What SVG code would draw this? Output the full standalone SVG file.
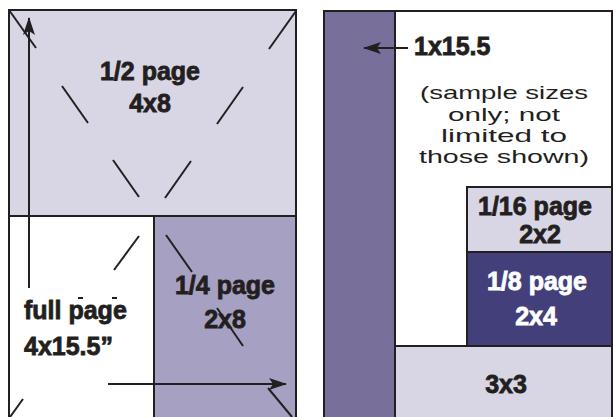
<svg xmlns="http://www.w3.org/2000/svg" width="613" height="417" viewBox="0 0 613 417">
<defs>
<style>
.box{stroke:#231f20;stroke-width:2}
.ln{stroke:#231f20;stroke-width:2;fill:none}
.b{font-family:"Liberation Sans",Arial,sans-serif;font-weight:bold;font-size:25px;fill:#231f20;stroke:#231f20;stroke-width:0.8;text-anchor:middle}
.w{fill:#ffffff;stroke:#ffffff}
.n{font-family:"Liberation Sans",Arial,sans-serif;font-size:19px;fill:#231f20;text-anchor:middle}
</style>
<marker id="ah" viewBox="0 0 18 12" refX="17" refY="6" markerWidth="18" markerHeight="12" markerUnits="userSpaceOnUse" orient="auto">
<path d="M0,0 L18,6 L0,12 L4,6 Z" fill="#231f20"/>
</marker>
</defs>
<rect width="613" height="417" fill="#ffffff"/>
<g id="full-page">
<rect class="box" x="9" y="10" width="287" height="420" fill="#ffffff"/>
<text class="b" x="24" y="319" style="text-anchor:start">full page</text>
<text class="b" x="24" y="355" style="text-anchor:start">4x15.5”</text>
</g>
<g id="half-page">
<rect class="box" x="9" y="10" width="287" height="206" fill="#d8d6e4"/>
<text class="b" x="150" y="80">1/2 page</text>
<text class="b" x="150" y="112">4x8</text>
</g>
<g id="quarter-page">
<rect class="box" x="154" y="216" width="142" height="214" fill="#a6a1c3"/>
<text class="b" x="225" y="294">1/4 page</text>
<text class="b" x="225" y="328">2x8</text>
</g>
<g id="bar">
<rect class="box" x="324" y="11" width="71" height="420" fill="#78709a"/>
</g>
<g id="right-panel">
<rect class="box" x="395" y="11" width="217" height="420" fill="#ffffff"/>
<text class="b" x="414" y="55" style="text-anchor:start">1x15.5</text>
<text class="n" x="504" y="99" textLength="168" lengthAdjust="spacingAndGlyphs">(sample sizes</text>
<text class="n" x="504" y="121" textLength="112" lengthAdjust="spacingAndGlyphs">only; not</text>
<text class="n" x="504" y="142" textLength="126" lengthAdjust="spacingAndGlyphs">limited to</text>
<text class="n" x="504" y="163" textLength="170" lengthAdjust="spacingAndGlyphs">those shown)</text>
</g>
<g id="sixteenth-page">
<rect class="box" x="467" y="187" width="145" height="65" fill="#d8d6e4"/>
<text class="b" x="535" y="215">1/16 page</text>
<text class="b" x="540" y="243">2x2</text>
</g>
<g id="eighth-page">
<rect class="box" x="467" y="252" width="145" height="94" fill="#433f7a"/>
<text class="b w" x="537" y="290">1/8 page</text>
<text class="b w" x="536" y="325">2x4</text>
</g>
<g id="three-by-three">
<rect class="box" x="395" y="346" width="217" height="85" fill="#d8d6e4"/>
<text class="b" x="506" y="393">3x3</text>
</g>
<g id="connectors">
<line class="ln" x1="29" y1="288" x2="29" y2="18" marker-end="url(#ah)"/>
<line class="ln" x1="108" y1="384" x2="286" y2="384" marker-end="url(#ah)"/>
<line class="ln" x1="408" y1="48" x2="364" y2="48" marker-end="url(#ah)"/>
<line class="ln" x1="9" y1="10" x2="36" y2="48"/>
<line class="ln" x1="296" y1="11" x2="269" y2="49"/>
<line class="ln" x1="62" y1="86" x2="88" y2="123"/>
<line class="ln" x1="243" y1="87" x2="217" y2="124"/>
<line class="ln" x1="113" y1="160" x2="139" y2="197"/>
<line class="ln" x1="191" y1="161" x2="165" y2="198"/>
<line class="ln" x1="139" y1="236" x2="114" y2="270"/>
<line class="ln" x1="166" y1="235" x2="192" y2="272"/>
<line class="ln" x1="217" y1="308" x2="243" y2="346"/>
<line class="ln" x1="23" y1="399" x2="10" y2="417"/>
<line class="ln" x1="268" y1="388" x2="292" y2="417"/>
<line class="ln" x1="78" y1="298" x2="83" y2="298"/>
<line class="ln" x1="112" y1="298" x2="117" y2="298"/>
</g>
</svg>
